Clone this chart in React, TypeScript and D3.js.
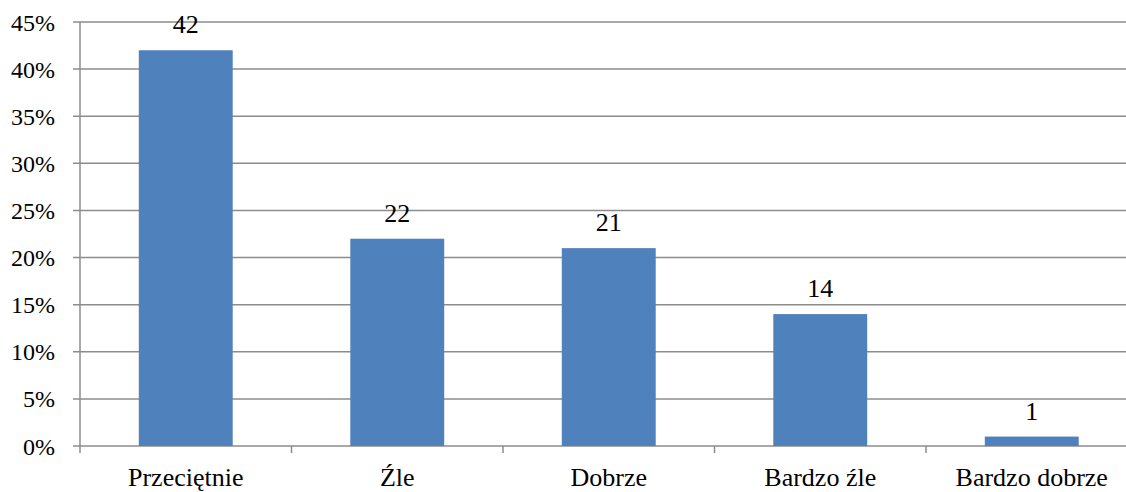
import React from "react";
import * as d3 from "d3";

const categories = ["Przeciętnie", "Źle", "Dobrze", "Bardzo źle", "Bardzo dobrze"];
const values = [42, 22, 21, 14, 1];
const yTicks = [0, 5, 10, 15, 20, 25, 30, 35, 40, 45];

const W = 1126;
const H = 492;
const left = 80;
const right = 1137.5;
const top = 22;
const bottom = 446;

export default function App() {
  const x = d3.scaleBand<string>().domain(categories).range([left, right]).paddingInner(0.556).paddingOuter(0.278);
  const xOuter = d3.scaleBand<string>().domain(categories).range([left, right]);
  const y = d3.scaleLinear().domain([0, 45]).range([bottom, top]);
  const font = "Liberation Serif";
  const grid = "#8c8c8c";
  return (
    <svg width={W} height={H} style={{ position: "absolute", left: 0, top: 0 }}>
      <rect width={W} height={H} fill="#fff" />
      {yTicks.map((t) => (
        <g key={t}>
          <line x1={left - 7} x2={W} y1={y(t)} y2={y(t)} stroke={grid} strokeWidth={1.5} />
          <text x={55} y={y(t) + 8.5} textAnchor="end" fontFamily={font} fontSize={24} fill="#000">
            {t}%
          </text>
        </g>
      ))}
      <line x1={left} x2={left} y1={top} y2={bottom} stroke={grid} strokeWidth={1.5} />
      {categories.map((c, i) => (
        <line key={"t" + i} x1={xOuter(c)!} x2={xOuter(c)!} y1={bottom} y2={bottom + 7} stroke={grid} strokeWidth={1.5} />
      ))}
      {categories.map((c, i) => (
        <g key={c}>
          <rect x={x(c)!} width={x.bandwidth()} y={y(values[i])} height={bottom - y(values[i])} fill="#4f81bd" />
          <text x={x(c)! + x.bandwidth() / 2} y={y(values[i]) - 17} textAnchor="middle" fontFamily={font} fontSize={26} fill="#000">
            {values[i]}
          </text>
          <text x={xOuter(c)! + xOuter.bandwidth() / 2} y={486} textAnchor="middle" fontFamily={font} fontSize={26} fill="#000">
            {c}
          </text>
        </g>
      ))}
    </svg>
  );
}
